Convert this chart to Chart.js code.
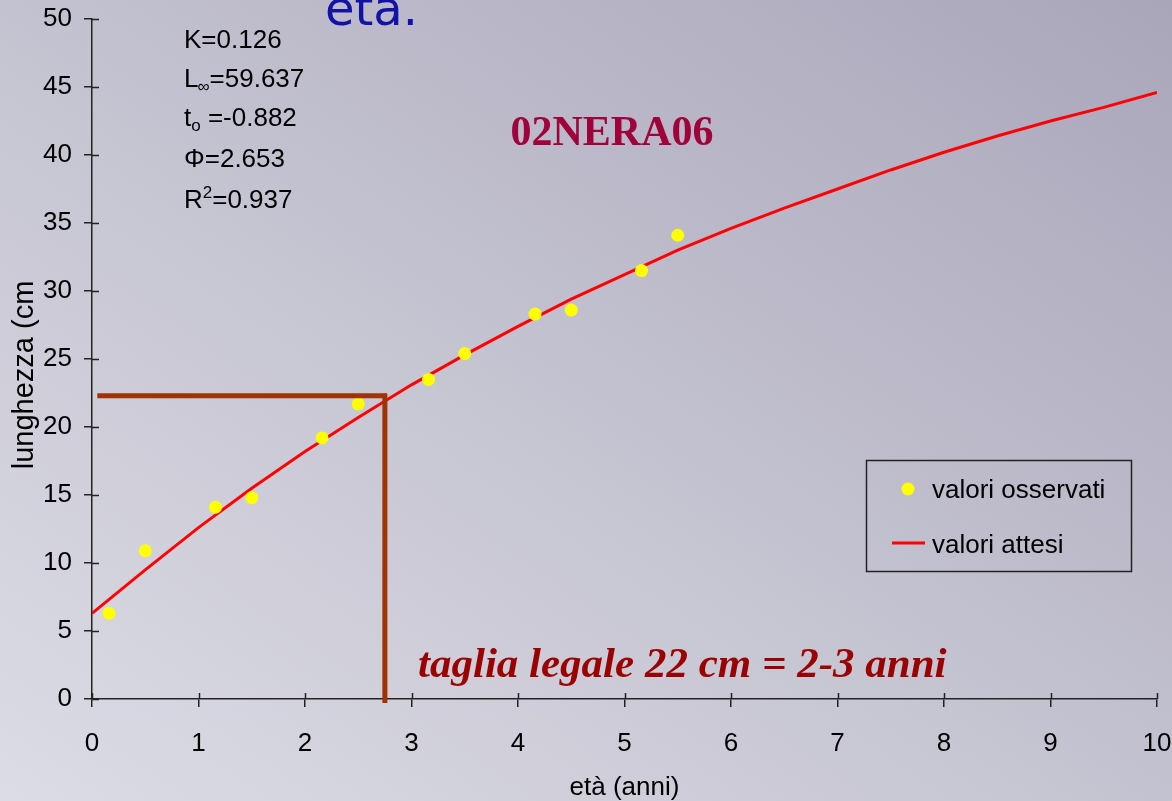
<!DOCTYPE html>
<html lang="it">
<head>
<meta charset="utf-8">
<title>02NERA06 – curva di accrescimento</title>
<script src="https://cdn.jsdelivr.net/npm/chart.js@4.4.1/dist/chart.umd.min.js"></script>
<style>
  html, body { margin: 0; padding: 0; }
  body {
    width: 1172px; height: 801px; overflow: hidden;
    background: linear-gradient(to top right, #dcdce5 0%, #c6c5d2 45%, #a9a6ba 100%);
  }
  #wrap { position: relative; width: 1172px; height: 801px; }
  canvas { display: block; }
</style>
</head>
<body>
<div id="wrap"><canvas id="growth" width="1172" height="801"></canvas></div>
<script>
// Età delle osservazioni (anni) e lunghezze osservate (cm)
const obsAges = [0.16, 0.5, 1.16, 1.5, 2.16, 2.5, 3.16, 3.5, 4.16, 4.5, 5.16, 5.5];
const obsLengths = [6.3, 10.9, 14.1, 14.8, 19.2, 21.7, 23.5, 25.4, 28.3, 28.6, 31.5, 34.1];

// Curva attesa (von Bertalanffy), letta ogni mezzo anno
const fitAges = [0, 0.5, 1, 1.5, 2, 2.5, 3, 3.5, 4, 4.5, 5, 5.5, 6, 6.5, 7, 7.5, 8, 8.5, 9, 9.5, 10];
const fitLengths = [6.3, 9.5, 12.6, 15.5, 18.2, 20.7, 23.1, 25.3, 27.4, 29.4, 31.2, 33.0, 34.6, 36.1, 37.5, 38.9, 40.2, 41.4, 42.5, 43.5, 44.6];

// Taglia legale e età corrispondente
const legalSize = 22.3;
const legalAge = 2.75;
const legalGuideH = [{ x: 0.05, y: legalSize }, { x: legalAge + 0.02, y: legalSize }];
const legalGuideV = [{ x: legalAge, y: legalSize + 0.15 }, { x: legalAge, y: -0.3 }];

// Tacche degli assi
const xTicks = [0, 1, 2, 3, 4, 5, 6, 7, 8, 9, 10];
const yTicks = [0, 5, 10, 15, 20, 25, 30, 35, 40, 45, 50];

// Parametri del modello mostrati nel grafico
const paramK = '0.126';
const paramLinf = '59.637';
const paramT0 = '-0.882';
const paramPhi = '2.653';
const paramR2 = '0.937';

const SANS = '"Liberation Sans", Arial, sans-serif';
const SERIF = '"Liberation Serif", "Times New Roman", serif';

const observed = obsAges.map((a, i) => ({ x: a, y: obsLengths[i] }));
const expected = fitAges.map((a, i) => ({ x: a, y: fitLengths[i] }));

// Tacche che attraversano l'asse, titoli, testi e legenda
const overlay = {
  id: 'overlay',
  afterDraw(chart) {
    const { ctx, chartArea: ca, scales: { x, y } } = chart;
    ctx.save();

    // parte interna delle tacche
    ctx.strokeStyle = '#222';
    ctx.lineWidth = 1.5;
    ctx.beginPath();
    xTicks.forEach(v => {
      const px = Math.round(x.getPixelForValue(v)) + 0.5;
      ctx.moveTo(px, ca.bottom); ctx.lineTo(px, ca.bottom - 6);
    });
    yTicks.forEach(v => {
      const py = Math.round(y.getPixelForValue(v)) + 0.5;
      ctx.moveTo(ca.left, py); ctx.lineTo(ca.left + 7, py);
    });
    ctx.stroke();

    // titoli degli assi
    ctx.fillStyle = '#000';
    ctx.font = '26px ' + SANS;
    ctx.textAlign = 'center';
    ctx.textBaseline = 'alphabetic';
    ctx.fillText('età (anni)', (ca.left + ca.right) / 2, 795);
    ctx.save();
    ctx.translate(33, 375);
    ctx.rotate(-Math.PI / 2);
    ctx.font = '29px ' + SANS;
    ctx.fillText('lunghezza (cm', 0, 0);
    ctx.restore();

    // parametri
    ctx.textAlign = 'left';
    const px0 = 184;
    ctx.font = '26px ' + SANS;
    ctx.fillText('K=' + paramK, px0, 48);

    ctx.fillText('L', px0, 87);
    let w = ctx.measureText('L').width;
    ctx.font = '17px ' + SANS;
    ctx.fillText('∞', px0 + w - 1, 92);
    const wi = ctx.measureText('∞').width;
    ctx.font = '26px ' + SANS;
    ctx.fillText('=' + paramLinf, px0 + w + wi - 1, 87);

    ctx.fillText('t', px0, 126);
    w = ctx.measureText('t').width;
    ctx.font = '17px ' + SANS;
    ctx.fillText('o', px0 + w, 131);
    const wo = ctx.measureText('o').width;
    ctx.font = '26px ' + SANS;
    ctx.fillText(' =' + paramT0, px0 + w + wo, 126);

    ctx.fillText('Φ=' + paramPhi, px0, 167);

    ctx.fillText('R', px0, 208);
    w = ctx.measureText('R').width;
    ctx.font = '17px ' + SANS;
    ctx.fillText('2', px0 + w, 198);
    const w2 = ctx.measureText('2').width;
    ctx.font = '26px ' + SANS;
    ctx.fillText('=' + paramR2, px0 + w + w2, 208);

    // codice del campione
    ctx.fillStyle = '#a0003a';
    ctx.font = 'bold 42px ' + SERIF;
    ctx.textAlign = 'center';
    ctx.fillText('02NERA06', 612, 145);

    // nota sulla taglia legale
    ctx.fillStyle = '#9a0000';
    ctx.font = 'italic bold 43px ' + SERIF;
    ctx.textAlign = 'left';
    ctx.fillText('taglia legale 22 cm = 2-3 anni', 418, 677);

    // titolo tagliato in alto
    ctx.fillStyle = '#1212a6';
    ctx.font = '48px "DejaVu Sans", sans-serif';
    ctx.fillText('età.', 325, 25);

    // legenda
    const lx = 866, ly = 460, lw = 265, lh = 111;
    ctx.strokeStyle = '#222';
    ctx.lineWidth = 1.5;
    ctx.strokeRect(lx + 0.5, ly + 0.5, lw, lh);
    const dsObs = chart.data.datasets[0];
    const dsFit = chart.data.datasets[1];
    ctx.fillStyle = dsObs.backgroundColor;
    ctx.beginPath();
    ctx.arc(908, 489, 6.5, 0, Math.PI * 2);
    ctx.fill();
    ctx.strokeStyle = dsFit.borderColor;
    ctx.lineWidth = 3;
    ctx.beginPath();
    ctx.moveTo(892, 543); ctx.lineTo(925, 543);
    ctx.stroke();
    ctx.fillStyle = '#000';
    ctx.font = '26px ' + SANS;
    ctx.fillText(dsObs.label, 932, 498);
    ctx.fillText(dsFit.label, 932, 553);

    ctx.restore();
  }
};

new Chart(document.getElementById('growth'), {
  type: 'scatter',
  data: {
    datasets: [
      {
        label: 'valori osservati',
        data: observed,
        showLine: false,
        pointRadius: 6.5,
        pointHoverRadius: 6.5,
        backgroundColor: '#ffff00',
        borderColor: '#ffff00',
        borderWidth: 0,
        order: 2
      },
      {
        label: 'valori attesi',
        data: expected,
        showLine: true,
        pointRadius: 0,
        borderColor: '#ff0000',
        borderWidth: 3,
        tension: 0,
        order: 3
      },
      {
        label: 'taglia legale',
        data: legalGuideH,
        showLine: true,
        pointRadius: 0,
        borderColor: '#a03400',
        borderWidth: 5,
        borderCapStyle: 'butt',
        clip: false,
        order: 1
      },
      {
        label: 'età legale',
        data: legalGuideV,
        showLine: true,
        pointRadius: 0,
        borderColor: '#a03400',
        borderWidth: 5,
        borderCapStyle: 'butt',
        clip: false,
        order: 1
      }
    ]
  },
  options: {
    responsive: false,
    animation: false,
    devicePixelRatio: 1,
    layout: { padding: { top: 19, right: 15, left: 0, bottom: 0 } },
    plugins: {
      legend: { display: false },
      tooltip: { enabled: false },
      title: { display: false }
    },
    scales: {
      x: {
        type: 'linear',
        min: 0, max: 10,
        afterFit(scale) {
          scale.height = 102;
          scale.paddingLeft = 0; scale.paddingRight = 0;
        },
        afterBuildTicks(scale) { scale.ticks = xTicks.map(v => ({ value: v })); },
        grid: { drawOnChartArea: false, drawTicks: true, tickLength: 8, color: '#222', lineWidth: 1.5 },
        border: { display: true, color: '#222', width: 1.5 },
        ticks: { color: '#000', font: { family: SANS, size: 26 }, padding: 21, maxRotation: 0 }
      },
      y: {
        type: 'linear',
        min: 0, max: 50,
        afterFit(scale) {
          scale.width = 92;
          scale.paddingTop = 0; scale.paddingBottom = 0;
        },
        afterBuildTicks(scale) { scale.ticks = yTicks.map(v => ({ value: v })); },
        grid: { drawOnChartArea: false, drawTicks: true, tickLength: 8, color: '#222', lineWidth: 1.5 },
        border: { display: true, color: '#222', width: 1.5 },
        ticks: { color: '#000', font: { family: SANS, size: 26 }, padding: 12 }
      }
    }
  },
  plugins: [overlay]
});
</script>
</body>
</html>
